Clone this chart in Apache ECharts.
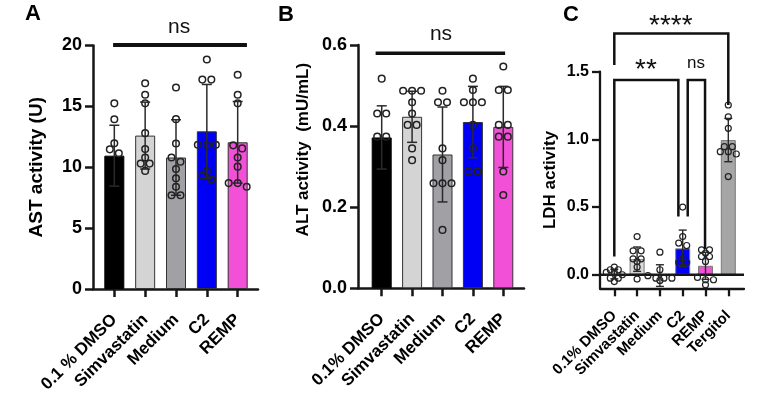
<!DOCTYPE html>
<html><head><meta charset="utf-8">
<script src="https://cdn.jsdelivr.net/npm/echarts@6/dist/echarts.min.js"></script>
<style>html,body{margin:0;padding:0;background:#fff}#c{width:771px;height:397px}</style>
</head><body><div id="c"></div>
<script>
// ---------- DATA ----------
const catsA = ['0.1 % DMSO', 'Simvastatin', 'Medium', 'C2', 'REMP'];
const catsB = ['0.1% DMSO', 'Simvastatin', 'Medium', 'C2', 'REMP'];
const catsC = ['0.1% DMSO', 'Simvastatin', 'Medium', 'C2', 'REMP', 'Tergitol'];

const ticksA = [0, 5, 10, 15, 20];
const ticksB = [0, 0.2, 0.4, 0.6];
const ticksC = [0, 0.5, 1.0, 1.5];

const meanA = [10.95, 12.6, 10.8, 12.95, 12.05];
const sdA = [2.5, 2.75, 3.1, 3.85, 3.35];
const ptsA = [
  [15.25, 13.94, 11.97, 11.47, 11.14],
  [16.9, 15.95, 15.25, 12.8, 11.5, 10.8, 10.3, 10.3, 9.7],
  [16.55, 13.95, 11.95, 10.8, 10.45, 9.85, 9.1, 8.4, 7.7, 7.7],
  [18.85, 17.2, 17.2, 11.85, 11.85, 11.85, 9.7, 9.3, 9.0],
  [17.6, 15.95, 15.25, 11.8, 11.55, 10.8, 10.05, 8.7, 8.7, 8.4]
];

const meanB = [0.372, 0.423, 0.33, 0.41, 0.398];
const sdB = [0.078, 0.063, 0.117, 0.088, 0.1];
const ptsB = [
  [0.517, 0.431, 0.431, 0.374, 0.374],
  [0.487, 0.487, 0.487, 0.459, 0.431, 0.403, 0.403, 0.345, 0.316],
  [0.487, 0.459, 0.459, 0.345, 0.316, 0.259, 0.259, 0.259, 0.144],
  [0.517, 0.489, 0.459, 0.459, 0.459, 0.403, 0.345, 0.288, 0.288],
  [0.547, 0.489, 0.489, 0.403, 0.403, 0.374, 0.374, 0.288, 0.23]
];

const meanC = [0.005, 0.115, -0.006, 0.195, 0.066, 0.995];
const sdC = [0.035, 0.09, 0.08, 0.135, 0.1, 0.16];
const ptsC = [
  [0.057, 0.037, 0.037, 0.017, 0.017, 0.0, -0.025, -0.025, -0.05],
  [0.282, 0.177, 0.177, 0.118, 0.118, 0.098, 0.057, -0.032],
  [0.167, 0.037, -0.007, -0.025, -0.025, -0.025, -0.042],
  [0.5, 0.282, 0.234, 0.216, 0.123, 0.091, 0.091],
  [0.184, 0.184, 0.16, 0.135, 0.135, 0.098, -0.02, -0.037, -0.037, -0.074],
  [1.254, 1.167, 1.082, 0.946, 0.946, 0.909, 0.909, 0.892, 0.725]
];

// ---------- LAYOUT / STYLE ----------
const FONT = '"Liberation Sans", Arial, Helvetica, sans-serif';
const INK = '#161616';
const colorsAB = ['#000000', '#d4d4d4', '#a1a1a5', '#0000f5', '#f350d8'];
const colorsC = ['#000000', '#d9d9d9', '#a1a1a5', '#0000f5', '#f350d8', '#a6a6a6'];

const panels = [
  {
    cats: catsA, mean: meanA, sd: sdA, pts: ptsA, ticks: ticksA, colors: colorsAB,
    outer: {left: 93, top: 45.5, width: 165, height: 243.5}, inner: {left: 98.9, width: 154.2},
    yMin: 0, yMax: 20, fmt: v => String(v), name: 'AST activity (U)', nameSize: 19, nameGap: 47, namePad: [0,0,0,0],
    tickSize: 18, catSize: 17, catMargin: 28, barW: 20, barBorder: '#333', axisW: 2.5, tickLen: 8,
    capHalf: 5, errW: 1.5, dotR: 3.3, dotW: 1.5, rowT: 4.6, rowS: 9,
    annot: [{label: 'ns', x: [-0.04, 4.3], y: 20.05, tx: 2.1, ty: 21.5, size: 21, lw: 4}]
  },
  {
    cats: catsB, mean: meanB, sd: sdB, pts: ptsB, ticks: ticksB, colors: colorsAB,
    outer: {left: 358, top: 45, width: 166, height: 243.3}, inner: {left: 366.5, width: 152},
    yMin: 0, yMax: 0.6, fmt: v => v.toFixed(1), name: 'ALT activity  (mU/mL)', nameSize: 17, nameGap: 46, namePad: [0,0,0,34],
    tickSize: 18, catSize: 17, catMargin: 28, barW: 20, barBorder: '#333', axisW: 2.5, tickLen: 8,
    capHalf: 5, errW: 1.5, dotR: 3.3, dotW: 1.5, rowT: 4.6, rowS: 9,
    annot: [{label: 'ns', x: [-0.2, 4.06], y: 0.5795, tx: 1.95, ty: 0.627, size: 21, lw: 3.5}]
  },
  {
    cats: catsC, mean: meanC, sd: sdC, pts: ptsC, ticks: ticksC, colors: colorsC,
    outer: {left: 600, top: 71.7, width: 144, height: 216.6}, inner: {left: 602.9, width: 136.8},
    yMin: -0.1, yMax: 1.5, fmt: v => v.toFixed(1), name: 'LDH activity', nameSize: 17, nameGap: 41, namePad: [0,0,0,0],
    tickSize: 16, catSize: 15, catMargin: 25, barW: 15, barBorder: '#7a7a7a', axisW: 2.3, tickLen: 8,
    capHalf: 4, errW: 1.4, dotR: 3, dotW: 1.2, rowT: 2.5, rowS: 8,
    zeroLine: true,
    annot: [
      {label: '****', x: [0, 5], y: 1.782, legs: [1.549, 1.254], tx: 2.48, ty: 1.836, size: 28, lw: 2.5},
      {label: '**', x: [0, 2.81], y: 1.438, legs: [0.135, 0.43], tx: 1.39, ty: 1.511, size: 28, lw: 2.5},
      {label: 'ns', x: [3.22, 3.98], y: 1.438, legs: [0.43, 0.19], tx: 3.58, ty: 1.56, size: 17, lw: 2.5}
    ]
  }
];

// position at a fractional category index, via the axis scale (centre + fraction of band)
function catCoord(api, x, y, n) {
  const i = Math.max(0, Math.min(n - 1, Math.round(x)));
  const c = api.coord([i, y]);
  const band = api.size([1, 0])[0];
  return [c[0] + (x - i) * band, c[1]];
}

const grid = [], xAxis = [], yAxis = [], series = [];
panels.forEach((p, k) => {
  const go = 2 * k, gi = 2 * k + 1;
  const n = p.cats.length;
  grid.push(Object.assign({}, p.outer));
  grid.push({left: p.inner.left, width: p.inner.width, top: p.outer.top, height: p.outer.height});

  xAxis.push({type: 'value', gridIndex: go, min: 0, max: 1,
    axisLine: {show: true, onZero: false, lineStyle: {color: INK, width: p.axisW}},
    axisTick: {show: false}, axisLabel: {show: false}, splitLine: {show: false}});
  xAxis.push({type: 'category', gridIndex: gi, data: p.cats,
    axisLine: {show: false, onZero: false},
    axisTick: {show: true, alignWithLabel: true, length: p.tickLen, lineStyle: {color: INK, width: p.axisW}},
    axisLabel: {interval: 0, rotate: 45, margin: p.catMargin, color: '#000', fontFamily: FONT, fontWeight: 'bold', fontSize: p.catSize},
    splitLine: {show: false}});

  yAxis.push({type: 'value', gridIndex: go, min: p.yMin, max: p.yMax,
    axisLine: {show: true, onZero: false, lineStyle: {color: INK, width: p.axisW}},
    axisTick: {show: true, length: p.tickLen, lineStyle: {color: INK, width: p.axisW}, customValues: p.ticks},
    axisLabel: {margin: 11, color: '#000', fontFamily: FONT, fontWeight: 'bold', fontSize: p.tickSize, formatter: p.fmt, customValues: p.ticks},
    splitLine: {show: false},
    name: p.name, nameLocation: 'middle', nameRotate: 90, nameGap: p.nameGap,
    nameTextStyle: {color: '#000', fontFamily: FONT, fontWeight: 'bold', fontSize: p.nameSize, padding: p.namePad}});
  yAxis.push({type: 'value', gridIndex: gi, min: p.yMin, max: p.yMax, show: false});

  // bars
  series.push({type: 'bar', xAxisIndex: gi, yAxisIndex: gi, barWidth: p.barW, z: 2,
    data: p.mean.map((v, i) => ({value: v, itemStyle: {color: p.colors[i], borderColor: i === 0 ? '#000' : p.barBorder, borderWidth: 1}}))});

  // zero line (panel C)
  if (p.zeroLine) {
    series.push({type: 'custom', xAxisIndex: go, yAxisIndex: go, clip: false, z: 4, data: [[0, 0]],
      renderItem: (params, api) => {
        const a = api.coord([0, 0]), b = api.coord([1, 0]);
        return {type: 'line', shape: {x1: a[0], y1: a[1], x2: b[0], y2: b[1]}, style: {stroke: INK, lineWidth: p.axisW}};
      }});
  }

  // error bars (mean ± SD)
  series.push({type: 'custom', xAxisIndex: gi, yAxisIndex: gi, clip: false, z: 5,
    encode: {x: 0, y: 1},
    data: p.mean.map((m, i) => [i, m, p.sd[i]]),
    renderItem: (params, api) => {
      const i = api.value(0), m = api.value(1), s = api.value(2);
      const t = api.coord([i, m + s]), b = api.coord([i, m - s]);
      const st = {stroke: '#2a2a2a', lineWidth: p.errW};
      return {type: 'group', children: [
        {type: 'line', shape: {x1: t[0], y1: t[1], x2: b[0], y2: b[1]}, style: st},
        {type: 'line', shape: {x1: t[0] - p.capHalf, y1: t[1], x2: t[0] + p.capHalf, y2: t[1]}, style: st},
        {type: 'line', shape: {x1: b[0] - p.capHalf, y1: b[1], x2: b[0] + p.capHalf, y2: b[1]}, style: st}
      ]};
    }});

  // individual points (hollow circles, spread in rows)
  series.push({type: 'custom', xAxisIndex: gi, yAxisIndex: gi, clip: false, z: 6,
    encode: {x: 0, y: 1},
    data: p.pts.map((a, i) => [i, a[0]]),
    renderItem: (params, api) => {
      const i = params.dataIndex;
      const vals = p.pts[i].slice().sort((a, b) => b - a);
      const pos = vals.map(v => api.coord([i, v]));
      const rows = []; let cur = null;
      pos.forEach(q => {
        if (cur && Math.abs(q[1] - cur.y0) < p.rowT) cur.items.push(q);
        else { cur = {y0: q[1], items: [q]}; rows.push(cur); }
      });
      const children = [];
      rows.forEach(r => {
        const m = r.items.length;
        r.items.forEach((q, j) => children.push({type: 'circle',
          shape: {cx: q[0] + (j - (m - 1) / 2) * p.rowS, cy: q[1], r: p.dotR},
          style: {fill: 'none', stroke: '#222', lineWidth: p.dotW}}));
      });
      return {type: 'group', children};
    }});

  // significance annotations
  series.push({type: 'custom', xAxisIndex: gi, yAxisIndex: gi, clip: false, z: 7,
    encode: {x: 0, y: 1},
    data: p.annot.map((a, i) => [i, a.y]),
    renderItem: (params, api) => {
      const a = p.annot[params.dataIndex];
      const L = catCoord(api, a.x[0], a.y, n), R = catCoord(api, a.x[1], a.y, n);
      let pts;
      if (a.legs) {
        pts = [catCoord(api, a.x[0], a.legs[0], n), L, R, catCoord(api, a.x[1], a.legs[1], n)];
      } else pts = [L, R];
      const tp = catCoord(api, a.tx, a.ty, n);
      return {type: 'group', children: [
        {type: 'polyline', shape: {points: pts}, style: {stroke: '#111', lineWidth: a.lw, fill: 'none', lineJoin: 'miter'}},
        {type: 'text', x: tp[0], y: tp[1], style: {text: a.label, fill: '#111', font: 'normal ' + a.size + 'px ' + FONT, align: 'center', verticalAlign: 'middle'}}
      ]};
    }});
});

const chart = echarts.init(document.getElementById('c'), null, {renderer: 'canvas'});
chart.setOption({
  animation: false,
  backgroundColor: '#fff',
  grid, xAxis, yAxis, series,
  graphic: [
    {type: 'text', left: 25, top: 3, style: {text: 'A', font: 'bold 22px ' + FONT, fill: '#000'}},
    {type: 'text', left: 278, top: 4, style: {text: 'B', font: 'bold 22px ' + FONT, fill: '#000'}},
    {type: 'text', left: 563, top: 4, style: {text: 'C', font: 'bold 22px ' + FONT, fill: '#000'}}
  ]
});
</script></body></html>
